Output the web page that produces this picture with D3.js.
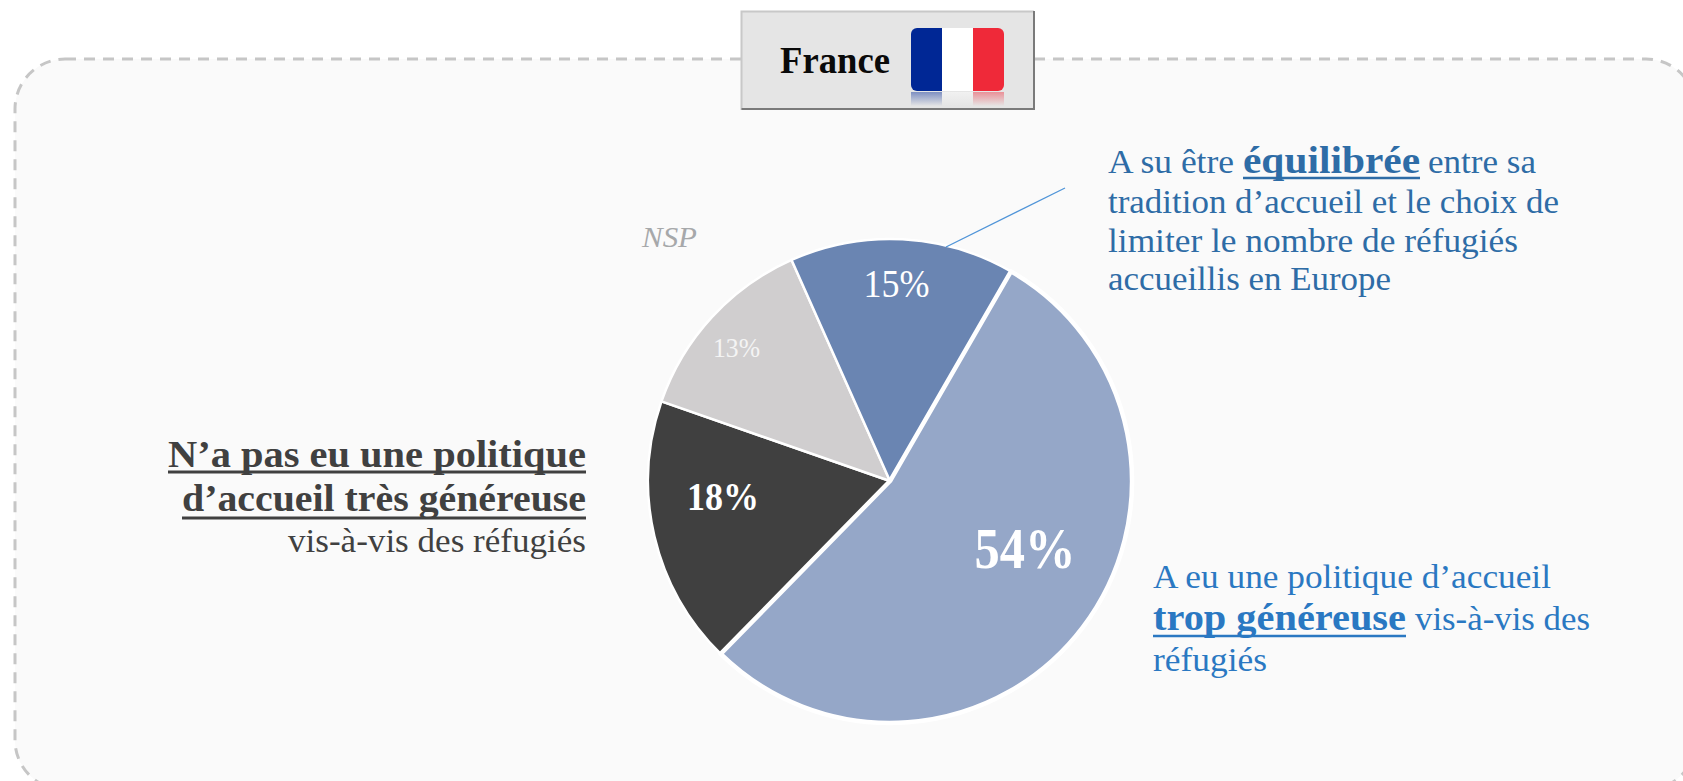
<!DOCTYPE html>
<html><head><meta charset="utf-8">
<script src="https://cdnjs.cloudflare.com/ajax/libs/d3/7.8.5/d3.min.js"></script>
<style>html,body{margin:0;padding:0;background:#fff;overflow:hidden}svg{display:block}text{font-family:"Liberation Serif",serif}</style>
</head><body><svg id="c" width="1683" height="781"></svg>
<script>
const categories=["trop généreuse","pas très généreuse","NSP","équilibrée"];
const values=[54,18,13,15];
const colors=["#95a7c8","#404040","#d0cecf","#6a85b2"];
const valueLabels=["54%","18%","13%","15%"];
const svg=d3.select("#c");

const defs=svg.append("defs");
const clip=defs.append("clipPath").attr("id","flagclip");
clip.append("rect").attr("x",911).attr("y",28).attr("width",93).attr("height",63).attr("rx",6);
const fade=defs.append("linearGradient").attr("id","fade").attr("x1",0).attr("y1",0).attr("x2",0).attr("y2",1);
fade.append("stop").attr("offset",0).attr("stop-color","#e5e5e5").attr("stop-opacity",0.55);
fade.append("stop").attr("offset",1).attr("stop-color","#e5e5e5").attr("stop-opacity",1);

svg.append("rect").attr("x",15).attr("y",59).attr("width",1681).attr("height",731).attr("rx",50)
 .attr("fill","#fafafa").attr("stroke","#c6c6c6").attr("stroke-width",3).attr("stroke-dasharray","11 8");

// pie
const cx=890,cy=481,R=242;
const pie=d3.pie().sort(null).value(d=>d).startAngle(30*Math.PI/180).endAngle(390*Math.PI/180);
const arc=d3.arc().innerRadius(0).outerRadius(R);
const slices=svg.append("g").attr("transform",`translate(${cx},${cy})`).selectAll("path").data(pie(values)).join("path")
 .attr("d",arc).attr("fill",(d,i)=>colors[i]).attr("stroke","#fff").attr("stroke-linejoin","round")
 .attr("stroke-width",(d,i)=>i===0?4.5:2.5);
slices.filter((d,i)=>i===0).raise();

svg.append("line").attr("x1",946).attr("y1",247).attr("x2",1065).attr("y2",188).attr("stroke","#4f94d8").attr("stroke-width",1.3);

function T(x,y,s,o){o=o||{};const t=svg.append("text").attr("x",x).attr("y",y).text(s)
 .attr("font-size",o.size||34).attr("fill",o.fill||"#000").attr("text-anchor",o.anchor||"start");
 if(o.bold)t.attr("font-weight","700"); if(o.italic)t.attr("font-style","italic");
 if(o.w)t.attr("textLength",o.w).attr("lengthAdjust","spacingAndGlyphs"); return t;}
function U(x1,x2,y,c,w){svg.append("line").attr("x1",x1).attr("x2",x2).attr("y1",y).attr("y2",y).attr("stroke",c).attr("stroke-width",w||2.5);}

// value labels
T(896.5,296.5,valueLabels[3],{size:40,fill:"#fff",anchor:"middle",w:66});
T(736.5,356.5,valueLabels[2],{size:28,fill:"#f4f4f4",anchor:"middle",w:47});
T(723,510,valueLabels[1],{size:39,fill:"#fff",anchor:"middle",bold:true,w:72});
T(1025,568,valueLabels[0],{size:57,fill:"#fff",anchor:"middle",bold:true,w:101});
T(669.5,246.5,categories[2],{size:29,fill:"#a6a8aa",anchor:"middle",italic:true,w:55});

// top right
const c1="#2e6ca6";
T(1108,173,"A su être",{fill:c1,w:126});
T(1243,173,"équilibrée",{fill:c1,bold:true,size:37,w:177});
T(1428,173,"entre sa",{fill:c1,w:108});
T(1108,213,"tradition d’accueil et le choix de",{fill:c1,w:451});
T(1108,252,"limiter le nombre de réfugiés",{fill:c1,w:410});
T(1108,290,"accueillis en Europe",{fill:c1,w:283});
U(1243,1420,178,c1);

// left
const c2="#404040";
T(586,467,"N’a pas eu une politique",{fill:c2,bold:true,size:38,anchor:"end",w:418});
T(586,511,"d’accueil très généreuse",{fill:c2,bold:true,size:38,anchor:"end",w:404});
T(586,552,"vis-à-vis des réfugiés",{fill:c2,anchor:"end",w:298});
U(168,586,472,c2,3);U(182,586,518,c2,3);

// bottom right
const c3="#2a78c2";
T(1153,588,"A eu une politique d’accueil",{fill:c3,w:398});
T(1153,630,"trop généreuse",{fill:c3,bold:true,size:37,w:253});
T(1415,630,"vis-à-vis des",{fill:c3,w:175});
T(1153,671,"réfugiés",{fill:c3,w:114});
U(1153,1406,636,c3);

// badge
svg.append("rect").attr("x",742).attr("y",12).attr("width",292).attr("height",97).attr("fill","#e5e5e5");
svg.append("path").attr("d","M741.5 110V11.5H1034").attr("fill","none").attr("stroke","#c8c8c8").attr("stroke-width",2);
svg.append("path").attr("d","M741.5 109H1034V11").attr("fill","none").attr("stroke","#7a7a7a").attr("stroke-width",2);
T(780,72.5,"France",{size:38,bold:true,fill:"#0a0a0a",w:110});
const flag=svg.append("g").attr("clip-path","url(#flagclip)");
const flagColors=["#002795","#ffffff","#ef2939"];
const fx=d3.scaleBand().domain(d3.range(3)).range([911,1004]);
flag.selectAll("rect").data(flagColors).join("rect").attr("x",(d,i)=>fx(i)).attr("y",28).attr("width",fx.bandwidth()).attr("height",63).attr("fill",d=>d);
const refl=svg.append("g");
refl.selectAll("rect").data(flagColors).join("rect").attr("x",(d,i)=>fx(i)).attr("y",92).attr("width",fx.bandwidth()).attr("height",14).attr("fill",d=>d);
svg.append("rect").attr("x",909).attr("y",92).attr("width",97).attr("height",14).attr("fill","url(#fade)");
</script></body></html>
